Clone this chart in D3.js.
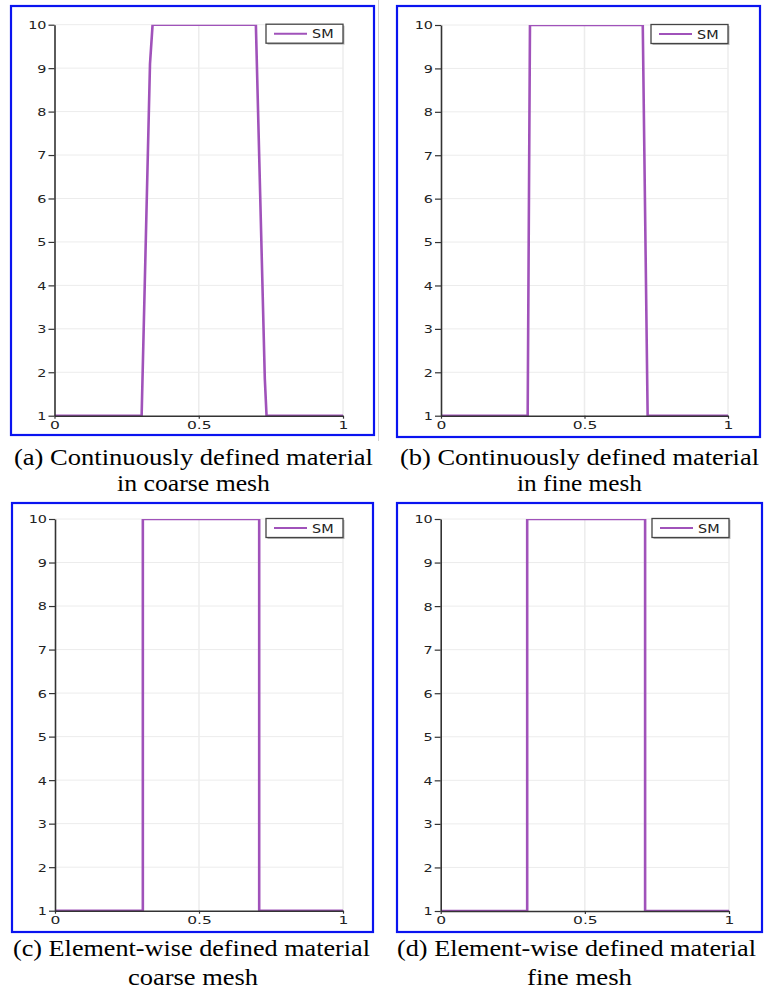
<!DOCTYPE html>
<html>
<head>
<meta charset="utf-8">
<script src="https://cdn.jsdelivr.net/npm/d3@7"></script>
<style>
  html, body { margin: 0; padding: 0; background: #fff; }
  svg { display: block; }
</style>
</head>
<body>
<script>
// Material property profile "SM" along the bar (x from 0 to 1) for four discretisations
const xTicks = [0, 0.5, 1];
const yTicks = [1, 2, 3, 4, 5, 6, 7, 8, 9, 10];
const seriesName = "SM";

// (a) continuously defined material, coarse mesh
const xA = [0, 0.302, 0.331, 0.340, 0.698, 0.729, 0.735, 1];
const yA = [1, 1, 9.1, 10, 10, 1.85, 1, 1];
// (b) continuously defined material, fine mesh
const xB = [0, 0.302, 0.310, 0.703, 0.720, 1];
const yB = [1, 1, 10, 10, 1, 1];
// (c) element-wise defined material, coarse mesh
const xC = [0, 0.305, 0.305, 0.709, 0.709, 1];
const yC = [1, 1, 10, 10, 1, 1];
// (d) element-wise defined material, fine mesh
const xD = [0, 0.300, 0.300, 0.709, 0.709, 1];
const yD = [1, 1, 10, 10, 1, 1];

const captions = [
  ["(a) Continuously defined material", "in coarse mesh"],
  ["(b) Continuously defined material", "in fine mesh"],
  ["(c) Element-wise defined material", "coarse mesh"],
  ["(d) Element-wise defined material", "fine mesh"]
];

// frame, plot area and caption placement for each panel
const layout = [
  { box: [11, 6, 374, 435], plot: [54.5, 24.7, 343, 415.7],
    cap: [[14, 373, 465], [117, 270, 491]] },
  { box: [397, 6, 760, 437], plot: [441, 25, 728, 415.7],
    cap: [[400, 759, 465], [517, 642, 491]] },
  { box: [12, 503, 373, 932], plot: [55, 519, 343, 910.7],
    cap: [[13, 370, 956], [128, 258, 985]] },
  { box: [397, 503, 762, 932], plot: [440.7, 519, 729, 911],
    cap: [[397, 756, 956], [527, 632, 985]] }
];

const series = [[xA, yA], [xB, yB], [xC, yC], [xD, yD]];

const W = 764, H = 995;
const lineColor = "#a052ba";
const axisColor = "#333";
const tickFont = "'DejaVu Sans', Verdana, sans-serif";

const svg = d3.select("body").append("svg")
  .attr("width", W).attr("height", H);

// faint page rule beside the upper panels
svg.append("line").attr("x1", 378.5).attr("x2", 378.5).attr("y1", 0).attr("y2", 441)
  .attr("stroke", "#d0d0d0").attr("stroke-width", 1);

layout.forEach((L, i) => {
  const [bx0, by0, bx1, by1] = L.box;
  const [px0, py0, px1, py1] = L.plot;
  const g = svg.append("g");

  const x = d3.scaleLinear().domain([0, 1]).range([px0, px1]);
  const y = d3.scaleLinear().domain([1, 10]).range([py1, py0]);

  // grid
  g.append("g").selectAll("line.h").data(yTicks.slice(1)).join("line")
    .attr("x1", x(0)).attr("x2", x(1))
    .attr("y1", d => y(d)).attr("y2", d => y(d))
    .attr("stroke", "#ececec").attr("stroke-width", 1);
  g.append("g").selectAll("line.v").data(xTicks.slice(1)).join("line")
    .attr("x1", d => x(d)).attr("x2", d => x(d))
    .attr("y1", y(10)).attr("y2", y(1))
    .attr("stroke", "#ececec").attr("stroke-width", 1.5);

  // profile line, clipped to the plot area
  const clipId = "clip" + i;
  g.append("clipPath").attr("id", clipId).append("rect")
    .attr("x", px0).attr("y", py0).attr("width", px1 - px0).attr("height", py1 - py0 + 1);
  const [xs, ys] = series[i];
  const pts = xs.map((v, k) => [v, ys[k]]);
  g.append("path").datum(pts)
    .attr("clip-path", `url(#${clipId})`)
    .attr("fill", "none").attr("stroke", lineColor).attr("stroke-width", 2.6)
    .attr("stroke-linejoin", "round")
    .attr("d", d3.line().x(d => x(d[0])).y(d => y(d[1])));

  // axes
  const yAxis = d3.axisLeft(y).tickValues(yTicks).tickFormat(d3.format("d"))
    .tickSize(6).tickSizeOuter(0).tickPadding(4);
  const ga = g.append("g").attr("transform", `translate(${px0},0)`).call(yAxis);
  const xAxis = d3.axisBottom(x).tickValues(xTicks).tickFormat(d => d === 0.5 ? "0.5" : d3.format("d")(d))
    .tickSize(3).tickSizeOuter(0).tickPadding(3);
  const gb = g.append("g").attr("transform", `translate(0,${py1})`).call(xAxis);

  [ga, gb].forEach(ax => {
    ax.select(".domain").attr("stroke", axisColor).attr("stroke-width", 1.6);
    ax.selectAll(".tick line").attr("stroke", axisColor).attr("stroke-width", 1.2);
    ax.selectAll(".tick text").attr("fill", "#222")
      .style("font-family", tickFont).style("font-size", "11.5px");
  });
  ga.selectAll(".tick text").each(function () {
    d3.select(this).attr("x", 0).attr("dy", "0.36em")
      .attr("transform", "translate(-8,0) scale(1.25,0.95)");
  });
  gb.selectAll(".tick text").each(function () {
    d3.select(this).attr("y", 0).attr("dy", "0.71em")
      .attr("transform", "translate(0,6) scale(1.35,0.9)");
  });

  // legend
  const lw = 77, lh = 19;
  const lx = x(1) - lw, ly = y(10) - 0.5;
  const lg = g.append("g");
  lg.append("rect").attr("x", lx + 1.5).attr("y", ly + 1.5).attr("width", lw).attr("height", lh)
    .attr("fill", "#bbb");
  lg.append("rect").attr("x", lx).attr("y", ly).attr("width", lw).attr("height", lh)
    .attr("fill", "#fff").attr("stroke", "#444").attr("stroke-width", 1.3);
  lg.append("line").attr("x1", lx + 8).attr("x2", lx + 41)
    .attr("y1", ly + lh / 2).attr("y2", ly + lh / 2)
    .attr("stroke", lineColor).attr("stroke-width", 2);
  lg.append("text").attr("x", 0).attr("y", 0)
    .attr("transform", `translate(${lx + 46},${ly + lh / 2 + 4.5}) scale(1.2,1)`)
    .style("font-family", tickFont).style("font-size", "12px").attr("fill", "#222")
    .text(seriesName);

  // panel frame
  g.append("rect").attr("x", bx0).attr("y", by0).attr("width", bx1 - bx0).attr("height", by1 - by0)
    .attr("fill", "none").attr("stroke", "#0a14f0").attr("stroke-width", 2.2);

  // caption
  L.cap.forEach((c, k) => {
    svg.append("text")
      .attr("x", c[0]).attr("y", c[2])
      .attr("textLength", c[1] - c[0]).attr("lengthAdjust", "spacingAndGlyphs")
      .style("font-family", "'Liberation Serif', 'Times New Roman', serif")
      .style("font-size", "24px").attr("fill", "#000")
      .text(captions[i][k]);
  });
});
</script>
</body>
</html>
